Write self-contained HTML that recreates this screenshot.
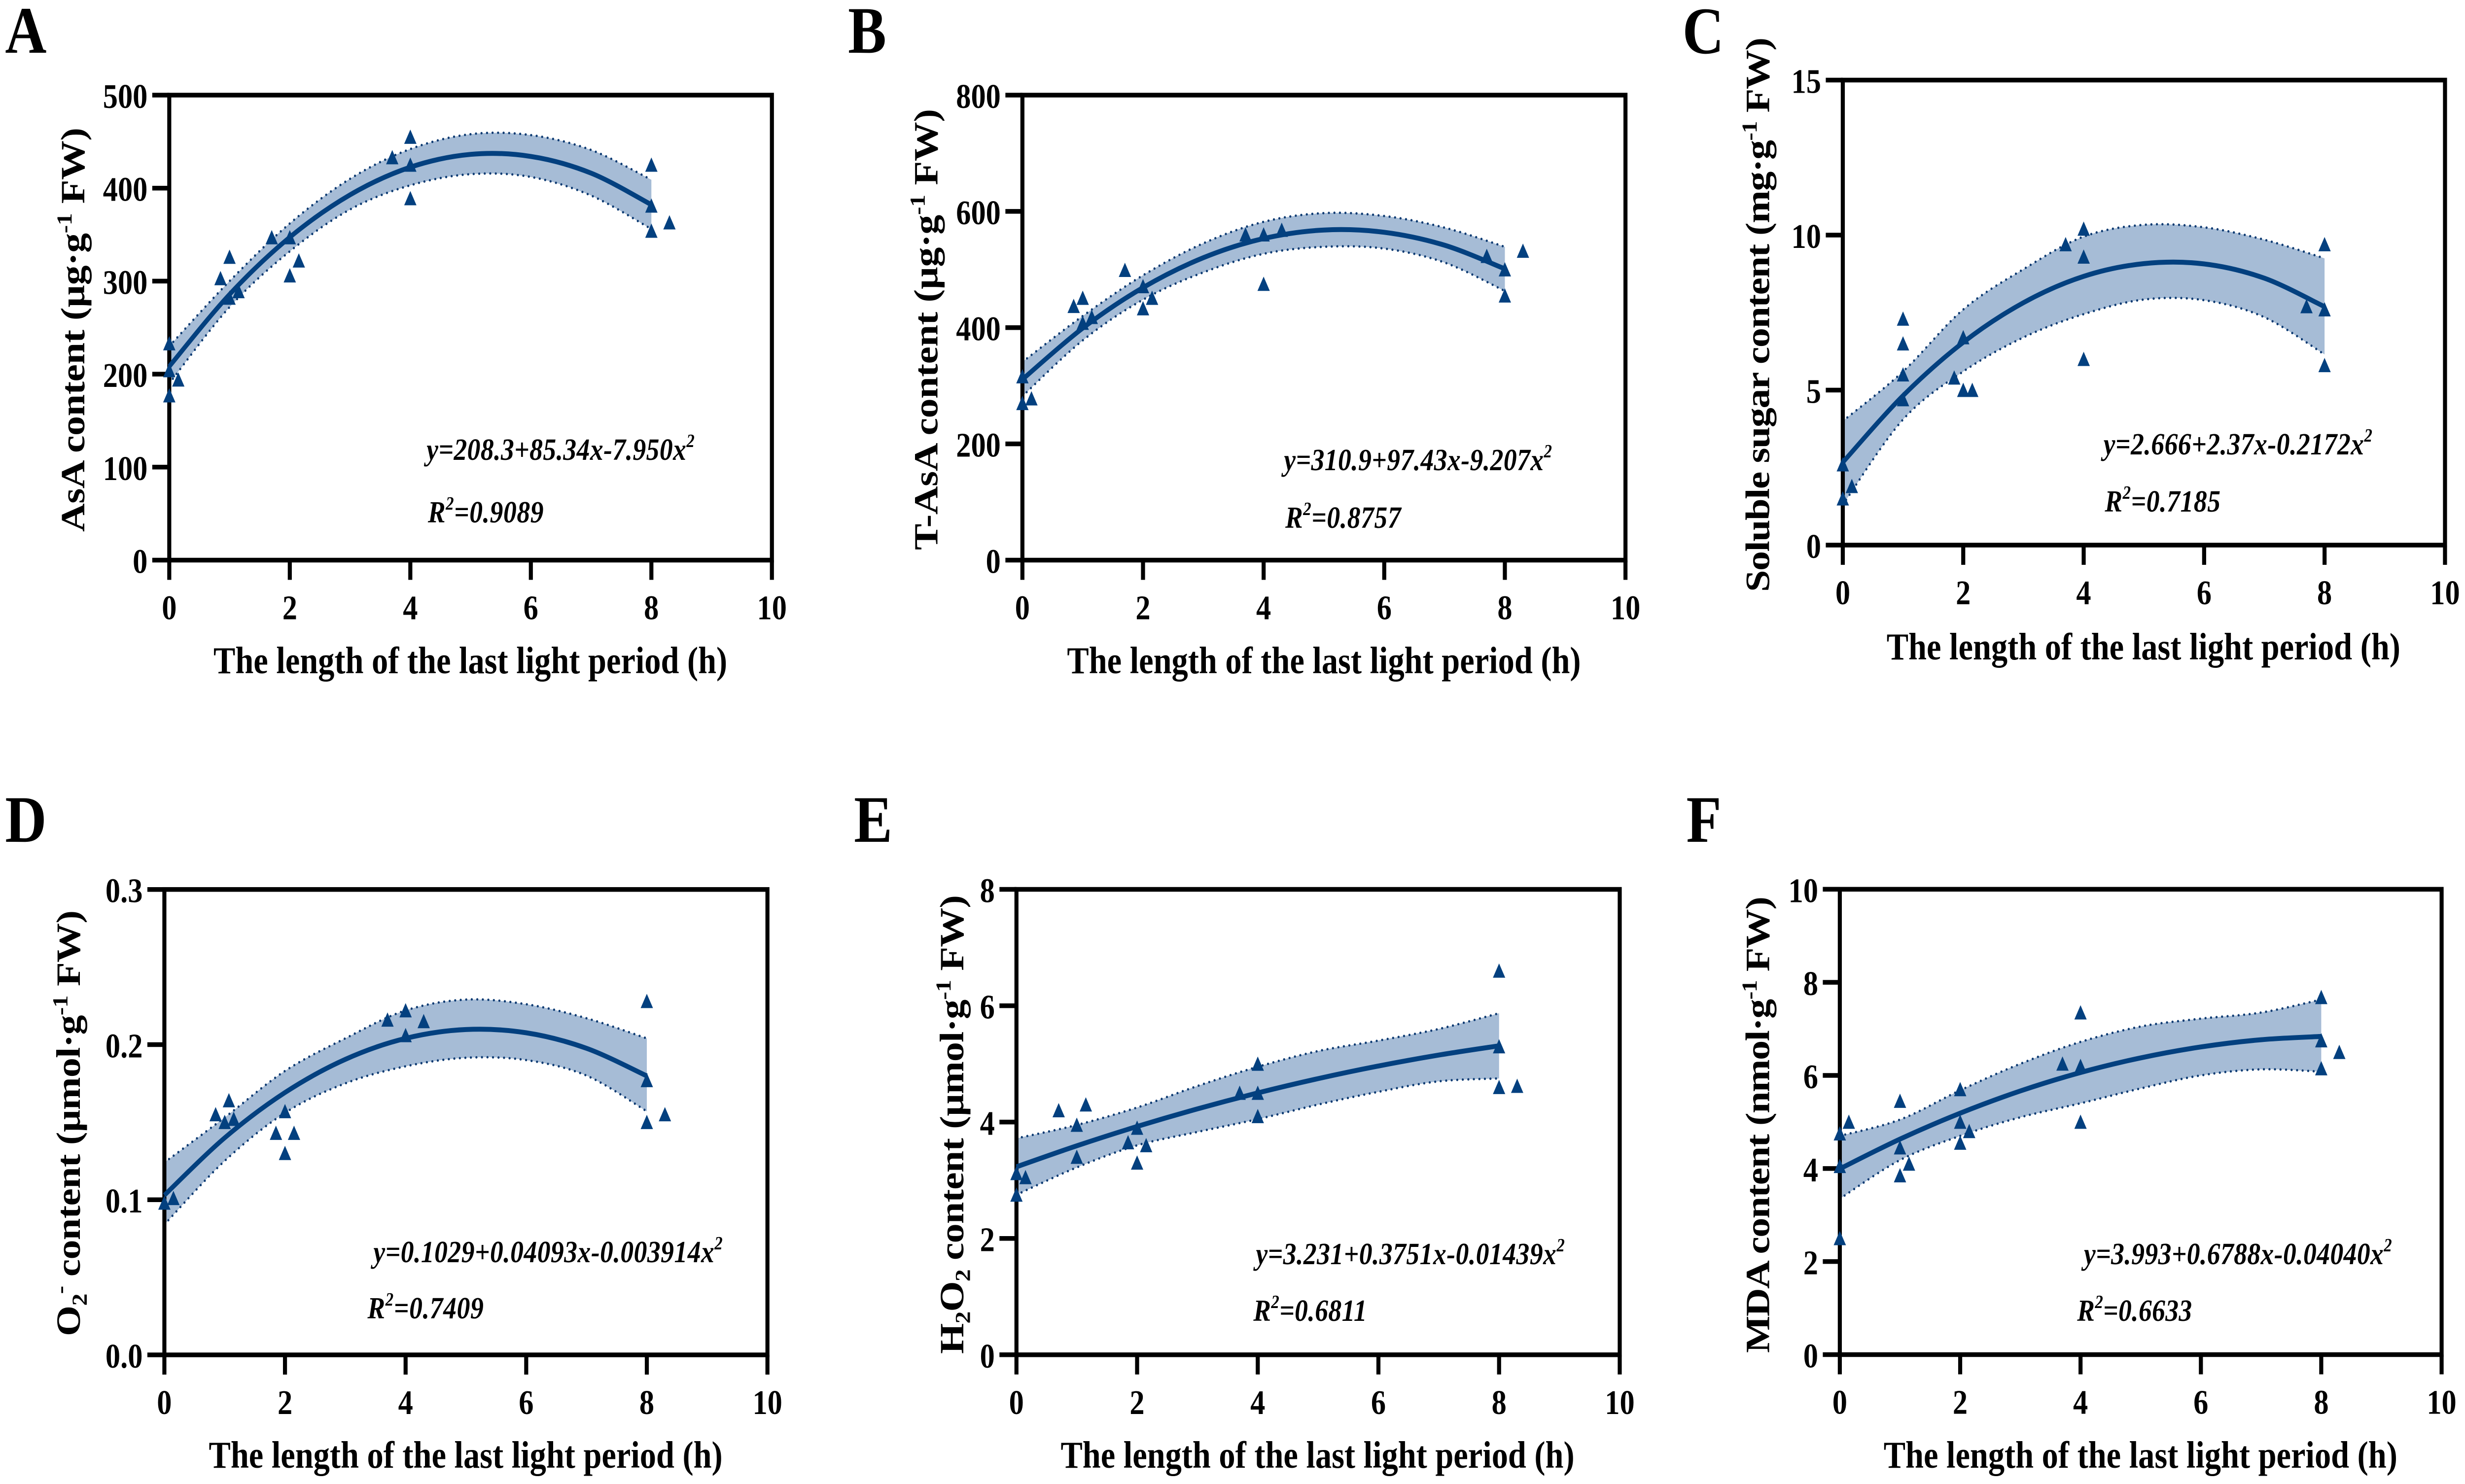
<!DOCTYPE html>
<html lang="en">
<head>
<meta charset="utf-8">
<title>Quadratic fits of metabolite content against the length of the last light period</title>
<style>
html,body{margin:0;padding:0;background:#fff;width:100%;height:100%;overflow:hidden}
svg{display:block;width:100vw;height:100vh}
text{font-family:"Liberation Serif",serif;font-weight:bold;fill:#000}
.xt{font-size:77px;text-anchor:middle}
.yt{font-size:80px}
.eq{font-size:62px;font-style:italic}
.pl{font-size:135px}
.tick{font-size:70px}
</style>
</head>
<body>
<svg id="fig" xmlns="http://www.w3.org/2000/svg" viewBox="0 0 5796 3011" preserveAspectRatio="none">
<rect width="5796" height="3011" fill="#fff"/>
<g id="marks"></g>

<text class="pl" x="12" y="107">A</text>
<text class="pl" x="1994" y="107">B</text>
<text class="pl" x="3956" y="108">C</text>
<text class="pl" x="12" y="1708">D</text>
<text class="pl" x="2008" y="1708">E</text>
<text class="pl" x="3965" y="1708">F</text>

<text class="xt" x="1106" y="1366" textLength="1208">The length of the last light period (h)</text>
<text class="xt" x="3113" y="1366" textLength="1208">The length of the last light period (h)</text>
<text class="xt" x="5040" y="1338" textLength="1208">The length of the last light period (h)</text>
<text class="xt" x="1095" y="2978" textLength="1208">The length of the last light period (h)</text>
<text class="xt" x="3098" y="2978" textLength="1208">The length of the last light period (h)</text>
<text class="xt" x="5033" y="2978" textLength="1208">The length of the last light period (h)</text>

<text class="yt" transform="translate(198 1079) rotate(-90)" textLength="820">AsA content (µg·g<tspan dy="-30" font-size="50">-1</tspan><tspan dy="30"> FW)</tspan></text>
<text class="yt" transform="translate(2204 1116) rotate(-90)" textLength="895">T-AsA content (µg·g<tspan dy="-30" font-size="50">-1</tspan><tspan dy="30"> FW)</tspan></text>
<text class="yt" transform="translate(4160 1201) rotate(-90)" textLength="1125">Soluble sugar content (mg·g<tspan dy="-30" font-size="50">-1</tspan><tspan dy="30"> FW)</tspan></text>
<text class="yt" transform="translate(188 2711) rotate(-90)" textLength="864">O<tspan dy="16" font-size="50">2</tspan><tspan dy="-46" font-size="50">-</tspan><tspan dy="30"> content (µmol·g</tspan><tspan dy="-30" font-size="50">-1</tspan><tspan dy="30"> FW)</tspan></text>
<text class="yt" transform="translate(2265 2747) rotate(-90)" textLength="931">H<tspan dy="16" font-size="50">2</tspan><tspan dy="-16">O</tspan><tspan dy="16" font-size="50">2</tspan><tspan dy="-16"> content (µmol·g</tspan><tspan dy="-30" font-size="50">-1</tspan><tspan dy="30"> FW)</tspan></text>
<text class="yt" transform="translate(4160 2745) rotate(-90)" textLength="926">MDA content (nmol·g<tspan dy="-30" font-size="50">-1</tspan><tspan dy="30"> FW)</tspan></text>

<text class="eq" x="1003" y="933" textLength="630">y=208.3+85.34x-7.950x<tspan dy="-26" font-size="38">2</tspan></text>
<text class="eq" x="1006" y="1060" textLength="272">R<tspan dy="-26" font-size="38">2</tspan><tspan dy="26">=0.9089</tspan></text>
<text class="eq" x="3019" y="954" textLength="630">y=310.9+97.43x-9.207x<tspan dy="-26" font-size="38">2</tspan></text>
<text class="eq" x="3022" y="1071" textLength="272">R<tspan dy="-26" font-size="38">2</tspan><tspan dy="26">=0.8757</tspan></text>
<text class="eq" x="4946" y="922" textLength="632">y=2.666+2.37x-0.2172x<tspan dy="-26" font-size="38">2</tspan></text>
<text class="eq" x="4949" y="1038" textLength="272">R<tspan dy="-26" font-size="38">2</tspan><tspan dy="26">=0.7185</tspan></text>
<text class="eq" x="878" y="2561" textLength="821">y=0.1029+0.04093x-0.003914x<tspan dy="-26" font-size="38">2</tspan></text>
<text class="eq" x="864" y="2675" textLength="273">R<tspan dy="-26" font-size="38">2</tspan><tspan dy="26">=0.7409</tspan></text>
<text class="eq" x="2953" y="2565" textLength="726">y=3.231+0.3751x-0.01439x<tspan dy="-26" font-size="38">2</tspan></text>
<text class="eq" x="2947" y="2680" textLength="267">R<tspan dy="-26" font-size="38">2</tspan><tspan dy="26">=0.6811</tspan></text>
<text class="eq" x="4900" y="2565" textLength="724">y=3.993+0.6788x-0.04040x<tspan dy="-26" font-size="38">2</tspan></text>
<text class="eq" x="4884" y="2680" textLength="270">R<tspan dy="-26" font-size="38">2</tspan><tspan dy="26">=0.6633</tspan></text>
</svg>

<script>
const xTickLabels = ["0", "2", "4", "6", "8", "10"];
const xTickValues = [0, 2, 4, 6, 8, 10];
const fitX = [0, 1, 2, 3, 4, 5, 6, 7, 8];

const yTicksA = [0, 100, 200, 300, 400, 500];
const yLabelsA = ["0", "100", "200", "300", "400", "500"];
const pointsXA = [0, 0, 0, 0.15, 0.85, 1, 1, 1.15, 1.7, 2, 2, 2.15, 3.7, 4, 4, 4, 8, 8, 8, 8.3];
const pointsYA = [233, 204, 177, 194, 303, 326, 282, 289, 347, 347, 306, 322, 433, 455, 425, 389, 425, 381, 354, 363];
const curveA = [208.3, 285.7, 347.2, 392.8, 422.5, 436.3, 434.1, 416.1, 382.2];
const upperA = [230, 300, 362, 410, 442, 458, 457, 441, 409];
const lowerA = [190, 272, 332, 377, 403, 415, 412, 392, 356];

const yTicksB = [0, 200, 400, 600, 800];
const yLabelsB = ["0", "200", "400", "600", "800"];
const pointsXB = [0, 0, 0.15, 0.85, 1, 1, 1.15, 1.7, 2, 2, 2.15, 3.7, 4, 4, 4.3, 7.7, 8, 8, 8.3];
const pointsYB = [316, 270, 278, 437, 451, 408, 418, 499, 471, 433, 451, 560, 560, 475, 568, 523, 500, 455, 532];
const curveB = [310.9, 399.1, 468.9, 520.3, 553.3, 567.9, 564, 541.8, 501.1];
const upperB = [341, 420, 490, 545, 582, 597, 592, 572, 539];
const lowerB = [282, 378, 448, 495, 527, 539, 536, 512, 463];

const yTicksC = [0, 5, 10, 15];
const yLabelsC = ["0", "5", "10", "15"];
const pointsXC = [0, 0, 0.15, 1, 1, 1, 1, 1.85, 2, 2, 2.15, 3.7, 4, 4, 4, 7.7, 8, 8, 8];
const pointsYC = [2.6, 1.5, 1.9, 7.3, 6.5, 5.5, 4.7, 5.4, 6.7, 5, 5, 9.7, 10.2, 9.3, 6, 7.7, 9.7, 7.6, 5.8];
const curveC = [2.67, 4.82, 6.54, 7.82, 8.67, 9.08, 9.07, 8.61, 7.69];
const upperC = [4, 5.6, 7.6, 8.9, 9.95, 10.33, 10.25, 9.85, 9.25];
const lowerC = [1.3, 4.05, 5.6, 6.7, 7.45, 7.92, 7.9, 7.35, 6.15];

const yTicksD = [0, 0.1, 0.2, 0.3];
const yLabelsD = ["0.0", "0.1", "0.2", "0.3"];
const pointsXD = [0, 0.15, 0.85, 1, 1.07, 1.15, 1.85, 2, 2, 2.15, 3.7, 4, 4, 4.3, 8, 8, 8, 8.3];
const pointsYD = [0.098, 0.101, 0.155, 0.15, 0.164, 0.152, 0.143, 0.157, 0.13, 0.143, 0.216, 0.222, 0.206, 0.215, 0.228, 0.177, 0.15, 0.155];
const curveD = [0.1029, 0.1399, 0.1691, 0.1905, 0.204, 0.2097, 0.2076, 0.1976, 0.1798];
const upperD = [0.124, 0.153, 0.183, 0.204, 0.222, 0.229, 0.226, 0.217, 0.204];
const lowerD = [0.084, 0.125, 0.156, 0.175, 0.186, 0.1915, 0.19, 0.18, 0.157];

const yTicksE = [0, 2, 4, 6, 8];
const yLabelsE = ["0", "2", "4", "6", "8"];
const pointsXE = [0, 0, 0.15, 0.7, 1, 1, 1.15, 1.85, 2, 2, 2.15, 3.7, 4, 4, 4, 8, 8, 8, 8.3];
const pointsYE = [3.12, 2.75, 3.05, 4.2, 3.95, 3.4, 4.3, 3.65, 3.9, 3.3, 3.6, 4.5, 5, 4.5, 4.1, 6.6, 5.3, 4.6, 4.62];
const curveE = [3.231, 3.592, 3.924, 4.227, 4.501, 4.747, 4.964, 5.152, 5.311];
const upperE = [3.72, 3.95, 4.25, 4.62, 4.95, 5.22, 5.4, 5.6, 5.87];
const lowerE = [2.75, 3.22, 3.6, 3.83, 4.05, 4.3, 4.52, 4.7, 4.75];

const yTicksF = [0, 2, 4, 6, 8, 10];
const yLabelsF = ["0", "2", "4", "6", "8", "10"];
const pointsXF = [0, 0, 0, 0.15, 1, 1, 1, 1.15, 2, 2, 2, 2.15, 3.7, 4, 4, 4, 8, 8, 8, 8.3];
const pointsYF = [4.75, 4.05, 2.5, 5, 5.45, 4.45, 3.85, 4.1, 5.7, 5, 4.55, 4.8, 6.25, 7.35, 6.2, 5, 7.68, 6.75, 6.15, 6.5];
const curveF = [3.993, 4.631, 5.188, 5.666, 6.062, 6.377, 6.612, 6.767, 6.838];
const upperF = [4.7, 5.05, 5.68, 6.25, 6.72, 7.05, 7.22, 7.35, 7.63];
const lowerF = [3.35, 4.18, 4.7, 5.1, 5.4, 5.72, 6, 6.13, 6.08];

const panels = [
  {id:"a", box:[398,1815,193,1136.5], xMax:10, yT:yTicksA, yL:yLabelsA, px:pointsXA, py:pointsYA, c:curveA, u:upperA, l:lowerA},
  {id:"b", box:[2404,3822,193,1136.5], xMax:10, yT:yTicksB, yL:yLabelsB, px:pointsXB, py:pointsYB, c:curveB, u:upperB, l:lowerB},
  {id:"c", box:[4333,5749,162.5,1106], xMax:10, yT:yTicksC, yL:yLabelsC, px:pointsXC, py:pointsYC, c:curveC, u:upperC, l:lowerC},
  {id:"d", box:[386.5,1804.5,1804.7,2749], xMax:10, yT:yTicksD, yL:yLabelsD, px:pointsXD, py:pointsYD, c:curveD, u:upperD, l:lowerD},
  {id:"e", box:[2390,3808.5,1804.5,2748.8], xMax:10, yT:yTicksE, yL:yLabelsE, px:pointsXE, py:pointsYE, c:curveE, u:upperE, l:lowerE},
  {id:"f", box:[4326,5741,1804.3,2748.5], xMax:10, yT:yTicksF, yL:yLabelsF, px:pointsXF, py:pointsYF, c:curveF, u:upperF, l:lowerF}
];

const NS = "http://www.w3.org/2000/svg";
const root = document.getElementById("marks");
const INK = "#03407f";
const AXIS_W = 9.5;

function make(tag, parent, props) {
  const e = document.createElementNS(NS, tag);
  for (const k in props) e.setAttribute(k, props[k]);
  parent.appendChild(e);
  return e;
}

function spline(pts) {
  let d = "";
  for (let i = 0; i < pts.length - 1; i++) {
    const p0 = pts[Math.max(i - 1, 0)], p1 = pts[i], p2 = pts[i + 1], p3 = pts[Math.min(i + 2, pts.length - 1)];
    const c1x = p1[0] + (p2[0] - p0[0]) / 6, c1y = p1[1] + (p2[1] - p0[1]) / 6;
    const c2x = p2[0] - (p3[0] - p1[0]) / 6, c2y = p2[1] - (p3[1] - p1[1]) / 6;
    d += "C" + c1x.toFixed(1) + " " + c1y.toFixed(1) + " " + c2x.toFixed(1) + " " + c2y.toFixed(1) + " " + p2[0].toFixed(1) + " " + p2[1].toFixed(1);
  }
  return d;
}

panels.forEach(function (p) {
  const L = p.box[0], R = p.box[1], T = p.box[2], B = p.box[3];
  const yMax = p.yT[p.yT.length - 1];
  const sx = function (v) { return L + (R - L) * v / p.xMax; };
  const sy = function (v) { return B - (B - T) * v / yMax; };

  const g = make("g", root, {});
  
  

  const upPts = fitX.map(function (x, i) { return [sx(x), sy(p.u[i])]; });
  const loPts = fitX.map(function (x, i) { return [sx(x), sy(p.l[i])]; });
  const loRev = loPts.slice().reverse();
  const midPts = fitX.map(function (x, i) { return [sx(x), sy(p.c[i])]; });

  const band = make("path", g, {
    d: "M" + upPts[0][0] + " " + upPts[0][1] + spline(upPts) + "L" + loRev[0][0] + " " + loRev[0][1] + spline(loRev) + "Z",
    fill: "#a6bcd6", stroke: "none"
  });
  
  

  const upLine = make("path", g, {
    d: "M" + upPts[0][0] + " " + upPts[0][1] + spline(upPts),
    fill: "none", stroke: "#0c3a72", "stroke-width": 5, "stroke-linecap": "round", "stroke-dasharray": "0 13"
  });
  
  

  const loLine = make("path", g, {
    d: "M" + loPts[0][0] + " " + loPts[0][1] + spline(loPts),
    fill: "none", stroke: "#0c3a72", "stroke-width": 5, "stroke-linecap": "round", "stroke-dasharray": "0 13"
  });
  
  

  const frame = make("rect", g, {x: L, y: T, width: R - L, height: B - T, fill: "none", stroke: "#000", "stroke-width": AXIS_W});
  
  

  xTickValues.forEach(function (v, i) {
    const t = make("line", g, {x1: sx(v), x2: sx(v), y1: B, y2: B + 40, stroke: "#000", "stroke-width": AXIS_W});
    
    
    const lab = make("text", g, {x: sx(v), y: B + 120, "text-anchor": "middle", "class": "tick"});
    
    
    lab.textContent = xTickLabels[i];
  });

  p.yT.forEach(function (v, i) {
    const t = make("line", g, {x1: L - 40, x2: L, y1: sy(v), y2: sy(v), stroke: "#000", "stroke-width": AXIS_W});
    
    
    const lab = make("text", g, {x: L - 51, y: sy(v) + 26, "text-anchor": "end", "class": "tick"});
    
    
    lab.textContent = p.yL[i];
  });

  const curve = make("path", g, {
    d: "M" + midPts[0][0] + " " + midPts[0][1] + spline(midPts),
    fill: "none", stroke: INK, "stroke-width": 10
  });
  
  

  p.px.forEach(function (x, i) {
    const cx = sx(x), cy = sy(p.py[i]);
    const tri = make("polygon", g, {
      points: cx + "," + (cy - 15) + " " + (cx + 14.5) + "," + (cy + 14) + " " + (cx - 14.5) + "," + (cy + 14),
      fill: INK
    });
    
    
  });
});
</script>
</body>
</html>
